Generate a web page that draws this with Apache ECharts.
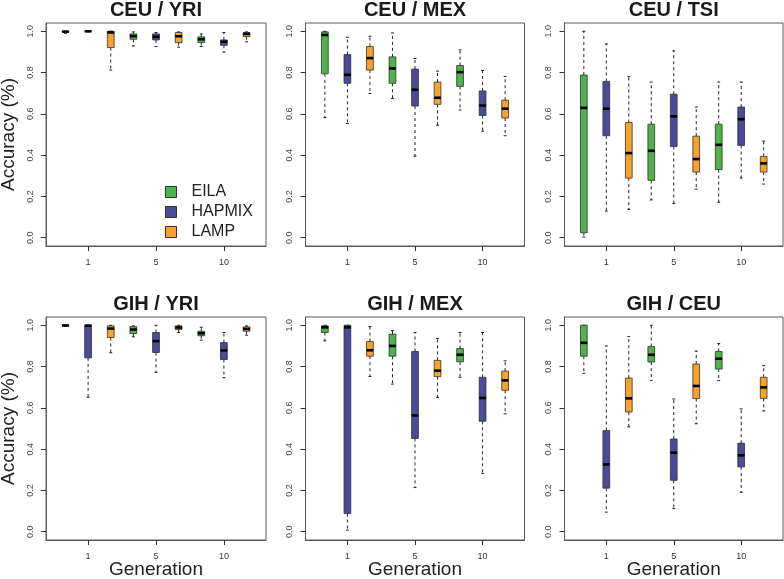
<!DOCTYPE html>
<html>
<head>
<meta charset="utf-8">
<script src="https://cdn.jsdelivr.net/npm/echarts@6/dist/echarts.min.js"></script>
<style>html,body{margin:0;padding:0;background:#fff}#c{width:784px;height:579px}</style>
</head>
<body>
<div id="c"></div>
<script>
// ---- data ----
const methods = ['EILA', 'HAPMIX', 'LAMP'];
const generationLabels = ['1', '5', '10'];
const panelTitles = ['CEU / YRI', 'CEU / MEX', 'CEU / TSI', 'GIH / YRI', 'GIH / MEX', 'GIH / CEU'];
const yTicks = [0, 0.2, 0.4, 0.6, 0.8, 1.0];
// each row: [min, Q1, median, Q3, max]; order: gen1 EILA,HAPMIX,LAMP, gen5 ..., gen10 ...
const ceuYri = [
  [0.990, 0.995, 0.998, 1.000, 1.000],
  [0.997, 0.999, 1.000, 1.000, 1.000],
  [0.812, 0.921, 0.994, 1.000, 1.000],
  [0.929, 0.961, 0.976, 0.987, 0.997],
  [0.926, 0.958, 0.973, 0.987, 0.994],
  [0.923, 0.945, 0.976, 0.994, 0.997],
  [0.926, 0.945, 0.961, 0.973, 0.987],
  [0.899, 0.932, 0.949, 0.958, 0.994],
  [0.949, 0.974, 0.987, 0.994, 0.997]
];
const ceuMex = [
  [0.582, 0.794, 0.982, 0.997, 1.000],
  [0.553, 0.748, 0.789, 0.887, 0.971],
  [0.699, 0.812, 0.870, 0.926, 0.976],
  [0.674, 0.748, 0.820, 0.876, 0.992],
  [0.395, 0.638, 0.717, 0.817, 0.868],
  [0.545, 0.646, 0.678, 0.754, 0.807],
  [0.619, 0.733, 0.802, 0.834, 0.910],
  [0.516, 0.592, 0.640, 0.711, 0.810],
  [0.494, 0.580, 0.625, 0.666, 0.781]
];
const ceuTsi = [
  [0.003, 0.024, 0.629, 0.788, 1.000],
  [0.129, 0.494, 0.625, 0.757, 0.939],
  [0.137, 0.289, 0.410, 0.558, 0.780],
  [0.183, 0.278, 0.421, 0.550, 0.754],
  [0.166, 0.442, 0.588, 0.695, 0.905],
  [0.235, 0.318, 0.381, 0.492, 0.633],
  [0.172, 0.330, 0.450, 0.550, 0.754],
  [0.289, 0.447, 0.574, 0.633, 0.754],
  [0.260, 0.318, 0.360, 0.394, 0.468]
];
const gihYri = [
  [0.995, 0.997, 0.999, 1.000, 1.000],
  [0.651, 0.842, 0.998, 1.000, 1.000],
  [0.867, 0.941, 0.984, 0.997, 1.000],
  [0.944, 0.960, 0.979, 0.994, 0.997],
  [0.772, 0.868, 0.923, 0.965, 1.000],
  [0.965, 0.979, 0.989, 0.997, 1.000],
  [0.928, 0.949, 0.961, 0.971, 0.990],
  [0.746, 0.834, 0.878, 0.916, 0.965],
  [0.952, 0.971, 0.982, 0.992, 0.997]
];
const gihMex = [
  [0.924, 0.965, 0.990, 0.997, 1.000],
  [0.008, 0.088, 0.990, 1.000, 1.000],
  [0.752, 0.850, 0.879, 0.921, 0.994],
  [0.715, 0.850, 0.900, 0.957, 0.974],
  [0.214, 0.452, 0.563, 0.873, 0.965],
  [0.651, 0.751, 0.780, 0.830, 0.936],
  [0.748, 0.823, 0.857, 0.887, 0.965],
  [0.283, 0.535, 0.648, 0.748, 0.965],
  [0.571, 0.685, 0.733, 0.778, 0.828]
];
const gihCeu = [
  [0.767, 0.850, 0.915, 1.000, 1.000],
  [0.095, 0.211, 0.326, 0.490, 0.900],
  [0.508, 0.580, 0.646, 0.744, 0.945],
  [0.733, 0.822, 0.857, 0.897, 1.000],
  [0.113, 0.249, 0.383, 0.449, 0.643],
  [0.523, 0.645, 0.706, 0.812, 0.875],
  [0.732, 0.788, 0.838, 0.873, 0.912],
  [0.191, 0.314, 0.370, 0.429, 0.595],
  [0.585, 0.646, 0.699, 0.748, 0.805]
];
const panelData = [ceuYri, ceuMex, ceuTsi, gihYri, gihMex, gihCeu];

// ---- style / layout ----
const colors = ['#4EB34A', '#4B4B9C', '#F5A32C'];
const colLeft = [46, 305.5, 564.5];
const colWidth = [220, 219, 218.5];
const rowTop = [23, 317];
const plotH = 223;
const FONT = 'Liberation Sans, Arial, Helvetica, sans-serif';

const grids = [], xAxes = [], yAxes = [], series = [], graphics = [];

function renderBox(params, api) {
  const x = api.value(0);
  const pLo = api.coord([x, api.value(1)]);
  const pQ1 = api.coord([x, api.value(2)]);
  const pMd = api.coord([x, api.value(3)]);
  const pQ3 = api.coord([x, api.value(4)]);
  const pHi = api.coord([x, api.value(5)]);
  const w = api.size([0.3, 0])[0];
  const sw = api.size([0.13, 0])[0];
  const cx = pMd[0];
  const col = api.visual('color');
  const dash = { stroke: '#222', lineWidth: 1, lineDash: [3, 3] };
  const solid = { stroke: '#222', lineWidth: 1 };
  return {
    type: 'group',
    children: [
      { type: 'line', shape: { x1: cx, y1: pQ3[1], x2: cx, y2: pHi[1] }, style: dash },
      { type: 'line', shape: { x1: cx, y1: pQ1[1], x2: cx, y2: pLo[1] }, style: dash },
      { type: 'line', shape: { x1: cx - sw / 2, y1: pHi[1], x2: cx + sw / 2, y2: pHi[1] }, style: solid },
      { type: 'line', shape: { x1: cx - sw / 2, y1: pLo[1], x2: cx + sw / 2, y2: pLo[1] }, style: solid },
      { type: 'rect', shape: { x: cx - w / 2, y: pQ3[1], width: w, height: pQ1[1] - pQ3[1] },
        style: { fill: col, stroke: 'rgba(40,40,40,0.75)', lineWidth: 1 } },
      { type: 'line', shape: { x1: cx - w / 2, y1: pMd[1], x2: cx + w / 2, y2: pMd[1] },
        style: { stroke: '#000', lineWidth: 2.6 } }
    ]
  };
}

panelData.forEach((rows, p) => {
  const r = Math.floor(p / 3), c = p % 3;
  grids.push({ left: colLeft[c], top: rowTop[r], width: colWidth[c], height: plotH,
    show: true, borderColor: '#5a5a5a', borderWidth: 1, backgroundColor: 'transparent' });
  xAxes.push({
    type: 'value', gridIndex: p, min: 0.14, max: 9.86, position: 'bottom',
    axisLine: { show: true, onZero: false, lineStyle: { color: '#5a5a5a', width: 1 } },
    splitLine: { show: false },
    axisTick: { show: true, inside: false, length: 5, lineStyle: { color: '#333', width: 1 }, customValues: [2, 5, 8] },
    axisLabel: { show: true, margin: 12, fontSize: 9, color: '#333', fontFamily: FONT,
      customValues: [2, 5, 8], formatter: v => generationLabels[Math.round((v - 2) / 3)] }
  });
  yAxes.push({
    type: 'value', gridIndex: p, min: -0.04, max: 1.04, position: 'left',
    axisLine: { show: true, onZero: false, lineStyle: { color: '#5a5a5a', width: 1 } },
    splitLine: { show: false },
    axisTick: { show: true, inside: false, length: 5, lineStyle: { color: '#333', width: 1 }, customValues: yTicks },
    axisLabel: { show: true, margin: 11, fontSize: 9, color: '#444', rotate: 90, fontFamily: FONT,
      customValues: yTicks, formatter: v => v.toFixed(1) }
  });
  methods.forEach((m, mi) => {
    series.push({
      type: 'custom', name: m, xAxisIndex: p, yAxisIndex: p,
      itemStyle: { color: colors[mi], borderColor: '#333', borderWidth: 1 },
      renderItem: renderBox,
      encode: { x: 0, y: [1, 2, 3, 4, 5] },
      data: generationLabels.map((g, gi) => [gi * 3 + mi + 1].concat(rows[gi * 3 + mi])),
      silent: true, animation: false
    });
  });
  // panel title
  graphics.push({ type: 'text', x: colLeft[c] + colWidth[c] / 2, y: rowTop[r] - 13,
    style: { text: panelTitles[p], font: 'bold 20px ' + FONT, fill: '#1a1a1a', align: 'center', verticalAlign: 'middle' } });
  if (c === 0) {
    graphics.push({ type: 'text', x: 9, y: rowTop[r] + plotH / 2, rotation: Math.PI / 2,
      style: { text: 'Accuracy (%)', font: '19px ' + FONT, fill: '#222', align: 'center', verticalAlign: 'middle' } });
  }
  if (r === 1) {
    graphics.push({ type: 'text', x: colLeft[c] + colWidth[c] / 2, y: 570,
      style: { text: 'Generation', font: '19px ' + FONT, fill: '#222', align: 'center', verticalAlign: 'middle' } });
  }
});

const chart = echarts.init(document.getElementById('c'), null, { renderer: 'canvas' });
chart.setOption({
  backgroundColor: '#fff',
  animation: false,
  grid: grids,
  xAxis: xAxes,
  yAxis: yAxes,
  legend: {
    data: methods, orient: 'vertical', left: 160, top: 179,
    icon: 'rect', itemWidth: 11, itemHeight: 11, itemGap: 4, selectedMode: false,
    itemStyle: { borderColor: '#333', borderWidth: 1 },
    textStyle: { fontSize: 16, color: '#222', fontFamily: FONT, padding: [0, 0, 0, 10], lineHeight: 16 }
  },
  graphic: graphics,
  series: series
});
</script>
</body>
</html>
